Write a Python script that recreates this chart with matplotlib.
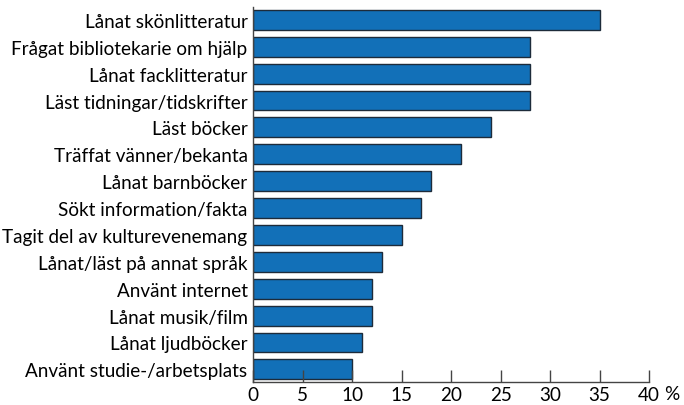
import matplotlib
matplotlib.use("Agg")
import matplotlib.pyplot as plt

categories = [
    "Lånat skönlitteratur",
    "Frågat bibliotekarie om hjälp",
    "Lånat facklitteratur",
    "Läst tidningar/tidskrifter",
    "Läst böcker",
    "Träffat vänner/bekanta",
    "Lånat barnböcker",
    "Sökt information/fakta",
    "Tagit del av kulturevenemang",
    "Lånat/läst på annat språk",
    "Använt internet",
    "Lånat musik/film",
    "Lånat ljudböcker",
    "Använt studie-/arbetsplats",
]
values = [35, 28, 28, 28, 24, 21, 18, 17, 15, 13, 12, 12, 11, 10]
xticks = [0, 5, 10, 15, 20, 25, 30, 35, 40]

plt.rcParams['font.family'] = ['Lato', 'DejaVu Sans']
FS = 13.6

fig = plt.figure(figsize=(6.84, 4.06), dpi=100)
ax = fig.add_axes([0.370, 0.0567, 0.579, 0.923])

y = list(range(len(categories)))
ax.barh(y, values, height=0.74, color="#1270b8", edgecolor="#1d2b3a", linewidth=1.0)

ax.set_ylim(len(categories) - 0.53, -0.47)
ax.set_xlim(0, 40)
ax.set_xticks(xticks)
ax.set_xticklabels([str(t) for t in xticks], fontsize=FS)
ax.set_yticks(y)
ax.set_yticklabels(categories, fontsize=FS)
ax.tick_params(axis='y', length=0, pad=4)
ax.tick_params(axis='x', direction='in', length=9, width=1, color="#444444", pad=3)

for s in ["top", "right"]:
    ax.spines[s].set_visible(False)
for s in ["left", "bottom"]:
    ax.spines[s].set_color("#444444")
    ax.spines[s].set_linewidth(1.0)

ax.text(1.037, -0.008, "%", transform=ax.transAxes, fontsize=FS, va="top", ha="left")

fig.savefig("out.png", dpi=100)
